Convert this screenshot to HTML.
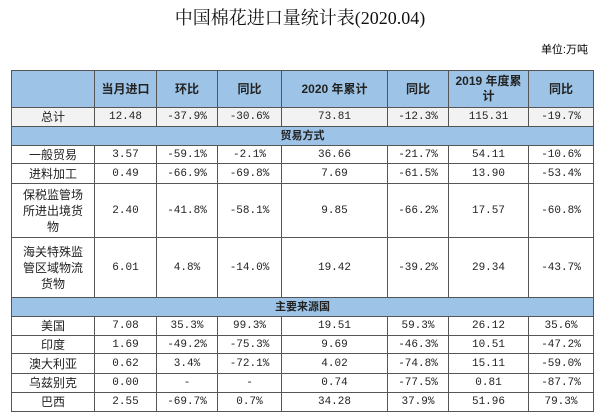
<!DOCTYPE html>
<html><head><meta charset="utf-8">
<style>
body{margin:0;width:600px;height:417px;background:#fff;position:relative;overflow:hidden;font-family:"Liberation Serif","Noto Serif CJK SC",serif;}
#title{position:absolute;left:0;width:600px;top:4px;text-align:center;font-size:18px;color:#111;font-family:"Liberation Serif","Noto Serif CJK SC",serif;}
#unit{position:absolute;right:12px;top:41px;font-size:11px;font-family:"Liberation Sans","Noto Sans CJK SC",sans-serif;}
table{position:absolute;left:11px;top:70px;border-collapse:collapse;table-layout:fixed;width:582px;font-size:11px;}
td{border:1.5px solid #555;text-align:center;padding:0;color:#222;font-family:"Liberation Mono","Noto Sans CJK SC",monospace;line-height:14px;}
td.l{font-family:"Liberation Sans","Noto Sans CJK SC",sans-serif;font-size:12px;line-height:16px;}
tr.h td{background:#9dc3e6;font-weight:bold;font-family:"Liberation Sans","Noto Sans CJK SC",sans-serif;font-size:12px;line-height:15px;}
tr.s td{background:#9dc3e6;font-family:"Liberation Sans","Noto Sans CJK SC",sans-serif;font-weight:bold;}
tr.t td{background:#f2f2f2;}
</style></head><body>
<div id="title">中国棉花进口量统计表(2020.04)</div>
<div id="unit">单位:万吨</div>
<table>
<colgroup><col style="width:83px"><col style="width:62px"><col style="width:61px"><col style="width:64px"><col style="width:106px"><col style="width:61px"><col style="width:80px"><col style="width:65px"></colgroup>
<tr class="h" style="height:37px"><td></td><td>当月进口</td><td>环比</td><td>同比</td><td>2020 年累计</td><td>同比</td><td>2019 年度累<br>计</td><td>同比</td></tr>
<tr class="t" style="height:19px"><td class="l">总计</td><td>12.48</td><td>-37.9%</td><td>-30.6%</td><td>73.81</td><td>-12.3%</td><td>115.31</td><td>-19.7%</td></tr>
<tr class="s" style="height:19px"><td colspan="8">贸易方式</td></tr>
<tr style="height:18px"><td class="l">一般贸易</td><td>3.57</td><td>-59.1%</td><td>-2.1%</td><td>36.66</td><td>-21.7%</td><td>54.11</td><td>-10.6%</td></tr>
<tr style="height:20px"><td class="l">进料加工</td><td>0.49</td><td>-66.9%</td><td>-69.8%</td><td>7.69</td><td>-61.5%</td><td>13.90</td><td>-53.4%</td></tr>
<tr style="height:54px"><td class="l">保税监管场<br>所进出境货<br>物</td><td>2.40</td><td>-41.8%</td><td>-58.1%</td><td>9.85</td><td>-66.2%</td><td>17.57</td><td>-60.8%</td></tr>
<tr style="height:60px"><td class="l">海关特殊监<br>管区域物流<br>货物</td><td>6.01</td><td>4.8%</td><td>-14.0%</td><td>19.42</td><td>-39.2%</td><td>29.34</td><td>-43.7%</td></tr>
<tr class="s" style="height:19px"><td colspan="8">主要来源国</td></tr>
<tr style="height:19px"><td class="l">美国</td><td>7.08</td><td>35.3%</td><td>99.3%</td><td>19.51</td><td>59.3%</td><td>26.12</td><td>35.6%</td></tr>
<tr style="height:18px"><td class="l">印度</td><td>1.69</td><td>-49.2%</td><td>-75.3%</td><td>9.69</td><td>-46.3%</td><td>10.51</td><td>-47.2%</td></tr>
<tr style="height:20px"><td class="l">澳大利亚</td><td>0.62</td><td>3.4%</td><td>-72.1%</td><td>4.02</td><td>-74.8%</td><td>15.11</td><td>-59.0%</td></tr>
<tr style="height:19px"><td class="l">乌兹别克</td><td>0.00</td><td>-</td><td>-</td><td>0.74</td><td>-77.5%</td><td>0.81</td><td>-87.7%</td></tr>
<tr style="height:19px"><td class="l">巴西</td><td>2.55</td><td>-69.7%</td><td>0.7%</td><td>34.28</td><td>37.9%</td><td>51.96</td><td>79.3%</td></tr>
</table>
</body></html>
